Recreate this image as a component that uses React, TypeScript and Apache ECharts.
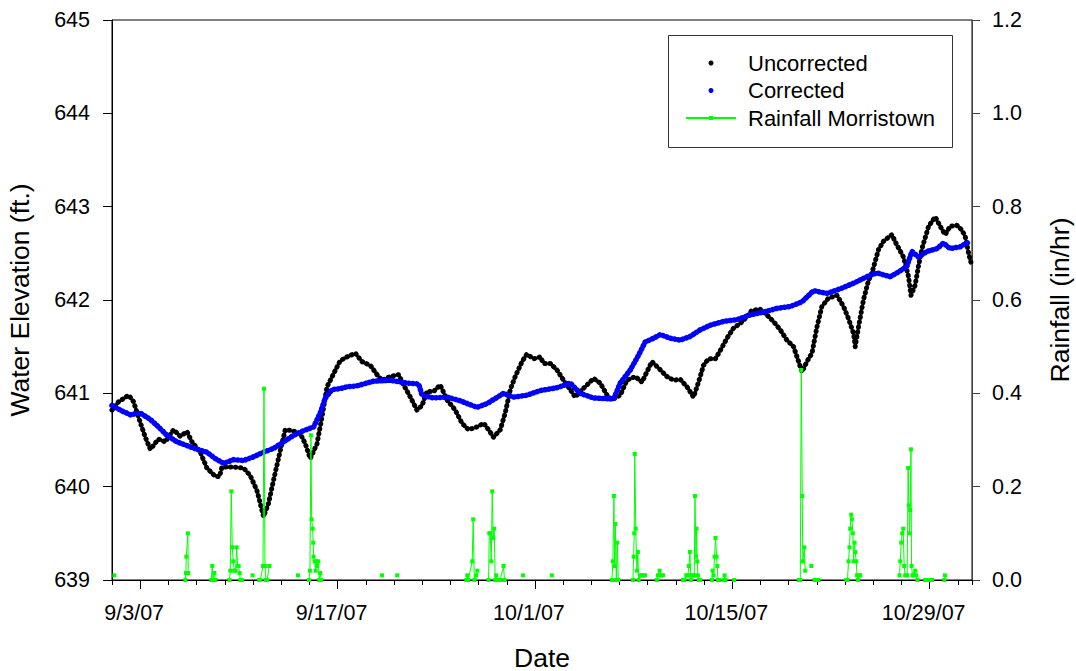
import React, { useEffect, useRef } from 'react';
import * as echarts from 'echarts';

// x values are days since 9/1/07 00:00
const xTickDays = [2, 16, 30, 44, 58];
const xTickLabels = ['9/3/07', '9/17/07', '10/1/07', '10/15/07', '10/29/07'];

const uncorrected: number[][] = [
  [0, 640.82], [0.47, 640.91], [1.18, 640.98], [1.53, 640.91], [1.89, 640.74], [2.36, 640.53], [2.72, 640.40],
  [3.3, 640.51], [3.78, 640.48], [4.37, 640.61], [4.84, 640.54], [5.32, 640.59], [5.67, 640.48], [6.26, 640.37],
  [6.73, 640.20], [7.33, 640.11], [7.63, 640.11], [7.8, 640.21], [8.63, 640.21], [9.33, 640.20], [9.8, 640.12],
  [10.28, 639.96], [10.75, 639.68], [11.1, 639.82], [11.46, 640.07], [11.94, 640.39], [12.29, 640.61], [12.77, 640.60],
  [13.35, 640.57], [13.71, 640.46], [14.06, 640.30], [14.54, 640.46], [14.9, 640.75], [15.25, 641.07], [15.72, 641.21],
  [16.19, 641.35], [16.66, 641.39], [17.26, 641.43], [17.73, 641.34], [18.32, 641.30], [18.8, 641.20], [19.15, 641.14],
  [19.74, 641.18], [20.33, 641.20], [20.69, 641.09], [21.16, 640.96], [21.63, 640.82], [21.99, 640.87], [22.34, 641.02],
  [22.81, 641.02], [23.28, 641.09], [23.76, 640.93], [24.35, 640.82], [24.82, 640.68], [25.29, 640.61], [25.89, 640.64],
  [26.36, 640.68], [26.71, 640.61], [27.06, 640.53], [27.54, 640.61], [27.89, 640.79], [28.25, 641.04], [28.6, 641.18],
  [29.08, 641.34], [29.43, 641.42], [29.9, 641.37], [30.38, 641.39], [30.61, 641.32], [31.09, 641.32], [31.56, 641.25],
  [32.03, 641.14], [32.5, 641.04], [32.86, 640.96], [33.21, 641.02], [33.69, 641.09], [34.16, 641.16], [34.63, 641.11],
  [35.11, 640.98], [35.46, 640.93], [36.05, 640.98], [36.52, 641.14], [37.11, 641.18], [37.59, 641.12], [37.94, 641.23],
  [38.3, 641.34], [38.77, 641.27], [39.36, 641.18], [39.83, 641.14], [40.3, 641.15], [40.78, 641.07], [41.25, 640.96],
  [41.6, 641.12], [41.96, 641.30], [42.31, 641.37], [42.8, 641.37], [43.15, 641.46], [43.62, 641.59], [44.09, 641.70],
  [44.57, 641.75], [45.04, 641.82], [45.39, 641.89], [45.98, 641.90], [46.45, 641.84], [46.92, 641.77], [47.4, 641.68],
  [47.87, 641.57], [48.34, 641.50], [48.7, 641.34], [48.94, 641.23], [49.29, 641.34], [49.65, 641.43], [50.0, 641.71],
  [50.35, 641.93], [50.82, 642.02], [51.42, 642.05], [51.89, 641.93], [52.24, 641.80], [52.6, 641.64], [52.72, 641.50],
  [52.95, 641.71], [53.3, 642.0], [53.66, 642.21], [53.9, 642.29], [54.37, 642.54], [54.72, 642.63], [55.32, 642.70],
  [55.67, 642.59], [56.14, 642.46], [56.5, 642.25], [56.67, 642.05], [56.97, 642.16], [57.2, 642.36], [57.45, 642.55],
  [57.92, 642.79], [58.39, 642.89], [58.74, 642.79], [59.1, 642.70], [59.45, 642.79], [59.93, 642.80], [60.28, 642.75],
  [60.52, 642.68], [60.76, 642.50], [61.0, 642.36],
];

const corrected: number[][] = [
  [0, 640.87], [0.59, 640.82], [1.3, 640.77], [2.0, 640.79], [2.72, 640.72], [3.3, 640.64], [3.9, 640.55],
  [4.61, 640.48], [5.32, 640.44], [6.03, 640.40], [6.73, 640.37], [7.33, 640.30], [7.92, 640.25], [8.63, 640.29],
  [9.33, 640.28], [10.04, 640.32], [10.75, 640.37], [11.46, 640.41], [12.17, 640.48], [12.88, 640.55], [13.59, 640.60],
  [14.3, 640.64], [14.77, 640.79], [15.13, 640.95], [15.6, 641.04], [16.19, 641.05], [16.66, 641.07], [17.37, 641.08],
  [18.55, 641.13], [19.74, 641.14], [20.92, 641.11], [21.75, 641.10], [21.99, 640.98], [22.81, 640.95], [23.76, 640.96],
  [24.7, 640.92], [25.89, 640.85], [26.6, 640.89], [27.77, 641.0], [28.48, 640.96], [29.43, 640.98], [30.38, 641.03],
  [31.56, 641.06], [32.5, 641.11], [33.21, 641.0], [34.16, 640.95], [35.58, 640.94], [36.05, 641.11], [36.76, 641.25],
  [37.35, 641.41], [37.82, 641.55], [38.41, 641.59], [38.89, 641.63], [39.6, 641.59], [40.3, 641.57], [41.01, 641.61],
  [41.72, 641.68], [42.43, 641.73], [43.37, 641.77], [44.33, 641.79], [45.27, 641.84], [46.21, 641.87], [47.16, 641.91],
  [48.1, 641.93], [48.94, 641.98], [49.76, 642.10], [50.71, 642.07], [51.65, 642.12], [52.6, 642.18], [53.55, 642.25],
  [54.25, 642.29], [55.19, 642.25], [55.78, 642.30], [56.38, 642.36], [56.74, 642.52], [57.2, 642.46], [57.8, 642.52],
  [58.51, 642.55], [58.98, 642.61], [59.45, 642.55], [60.16, 642.57], [60.87, 642.63],
];

const rainEvents: number[][][] = [
  [[0.17, 0.01]],
  [[5.2, 0], [5.24, 0.015], [5.27, 0.05], [5.38, 0.10], [5.41, 0.015]],
  [[7.04, 0], [7.11, 0.03], [7.16, 0], [7.26, 0.015], [7.33, 0]],
  [[8.34, 0], [8.39, 0.02], [8.46, 0.19], [8.53, 0.07], [8.6, 0.04], [8.67, 0.02], [8.77, 0.02], [8.84, 0.07],
    [8.91, 0.03], [8.98, 0.03], [9.05, 0.015], [9.1, 0], [9.22, 0]],
  [[9.97, 0.01]],
  [[10.45, 0], [10.52, 0], [10.71, 0.03], [10.78, 0.41], [10.85, 0.03], [10.92, 0], [11.0, 0], [11.16, 0.03]],
  [[13.19, 0.01]],
  [[13.97, 0], [14.04, 0.02], [14.11, 0.31], [14.16, 0.13], [14.23, 0.11], [14.27, 0.08], [14.3, 0.05], [14.37, 0.04],
    [14.44, 0.02], [14.49, 0.04], [14.56, 0.03], [14.63, 0.04], [14.7, 0], [14.77, 0.015], [14.84, 0]],
  [[19.15, 0.01]],
  [[20.23, 0.01]],
  [[25.13, 0], [25.2, 0.01], [25.27, 0], [25.55, 0.04], [25.62, 0.13], [25.7, 0], [25.84, 0.01], [25.91, 0.02]],
  [[26.71, 0], [26.76, 0.10], [26.83, 0.10], [26.9, 0.04], [26.97, 0.19], [27.04, 0.09], [27.11, 0.11], [27.18, 0],
    [27.25, 0.01], [27.32, 0], [27.42, 0], [27.54, 0], [27.77, 0.03], [27.84, 0]],
  [[29.15, 0.01]],
  [[31.2, 0.01]],
  [[35.46, 0], [35.53, 0.04], [35.6, 0.18], [35.65, 0.03], [35.7, 0.12], [35.77, 0], [35.84, 0.08], [35.91, 0]],
  [[36.95, 0], [37.0, 0.05], [37.04, 0.10], [37.08, 0.27], [37.15, 0.11], [37.23, 0.02], [37.3, 0.06], [37.35, 0],
    [37.47, 0.01], [37.59, 0.01], [37.7, 0.01], [37.82, 0.01]],
  [[38.65, 0], [38.72, 0.01], [38.84, 0.02], [38.94, 0.01], [39.08, 0.01]],
  [[40.5, 0], [40.61, 0], [40.73, 0.01], [40.85, 0.01], [40.92, 0.03], [40.99, 0.06], [41.06, 0], [41.13, 0.01],
    [41.2, 0.01], [41.3, 0.01], [41.35, 0.18], [41.42, 0.05], [41.46, 0.11], [41.51, 0.04], [41.56, 0.01], [41.63, 0],
    [41.72, 0]],
  [[42.55, 0], [42.6, 0.02], [42.67, 0.01], [42.74, 0.05], [42.81, 0.09], [42.88, 0.05], [42.93, 0.03], [42.98, 0],
    [43.05, 0]],
  [[43.38, 0], [43.45, 0.01], [43.52, 0]],
  [[44.13, 0]],
  [[48.74, 0], [48.82, 0], [48.89, 0.45], [48.96, 0.18], [49.0, 0.04], [49.1, 0.07], [49.17, 0.02]],
  [[49.6, 0.03]],
  [[49.83, 0], [49.93, 0], [50.11, 0]],
  [[52.08, 0], [52.17, 0], [52.24, 0.04], [52.31, 0.07], [52.36, 0.11], [52.43, 0.14], [52.48, 0.13], [52.55, 0.10],
    [52.6, 0.04], [52.67, 0.08], [52.72, 0.06], [52.79, 0.04], [52.84, 0.01], [52.91, 0], [52.98, 0.01], [53.07, 0.01]],
  [[55.86, 0.01], [55.91, 0.04], [55.98, 0.08], [56.05, 0.10], [56.12, 0.11], [56.19, 0.03], [56.26, 0.01],
    [56.33, 0.01], [56.4, 0.01], [56.47, 0.24], [56.52, 0.16], [56.57, 0.10], [56.62, 0.15], [56.67, 0.28],
    [56.71, 0.03], [56.78, 0.01], [56.85, 0.01], [56.97, 0.02], [57.04, 0.01], [57.13, 0]],
  [[57.68, 0], [57.8, 0], [58.09, 0], [58.16, 0]],
  [[59.04, 0], [59.08, 0.01]],
];

export default function App() {
  const ref = useRef<HTMLDivElement>(null);

  useEffect(() => {
    if (!ref.current) return;
    const chart = echarts.init(ref.current, null, { renderer: 'svg' });
    const font = 'Liberation Sans';
    const titleSize = 26.5;

    const rainData: any[] = [];
    rainEvents.forEach((ev, i) => {
      if (i > 0) rainData.push([ev[0][0], '-']);
      ev.forEach((p) => rainData.push(p));
    });

    const option: any = {
      animation: false,
      backgroundColor: '#ffffff',
      grid: {
        left: 112, right: 104, top: 20, bottom: 91,
        containLabel: false,
        outerBoundsMode: 'none',
        show: true, borderColor: '#000', borderWidth: 1, backgroundColor: 'transparent',
      },
      legend: {
        orient: 'vertical',
        left: 685,
        top: 52,
        itemWidth: 50,
        itemHeight: 5,
        itemGap: 5.5,
        selectedMode: false,
        padding: 0,
        textStyle: { fontFamily: font, fontSize: 22, color: '#000', lineHeight: 22, padding: [0, 0, 0, 7] },
        data: [
          { name: 'Uncorrected', icon: 'circle' },
          { name: 'Corrected', icon: 'circle' },
          { name: 'Rainfall Morristown' },
        ],
      },
      graphic: [
        {
          type: 'rect',
          shape: { x: 668.5, y: 35.5, width: 284, height: 112 },
          style: { fill: 'none', stroke: '#333', lineWidth: 1 },
          z: 10,
        },
      ],
      xAxis: [
        {
          type: 'value',
          min: 0,
          max: 61,
          position: 'bottom',
          name: 'Date',
          nameLocation: 'middle',
          nameGap: 64,
          nameTextStyle: { fontFamily: font, fontSize: titleSize, color: '#000' },
          axisLine: { show: true, onZero: false, lineStyle: { color: '#000', width: 1 } },
          axisTick: { show: true, customValues: xTickDays, length: 9, lineStyle: { color: '#000', width: 1 } },
          axisLabel: {
            customValues: xTickDays,
            formatter: (v: number) => {
              const i = xTickDays.indexOf(Math.round(v));
              return i >= 0 ? xTickLabels[i] : '';
            },
            fontFamily: font, fontSize: 21.5, color: '#000', margin: 22, padding: [0, 12, 0, 0],
          },
          splitLine: { show: false },
        },
        {
          type: 'value',
          min: 0,
          max: 61,
          interval: 2,
          position: 'bottom',
          axisLine: { show: false, onZero: false },
          axisTick: { show: true, length: 5, lineStyle: { color: '#000', width: 1 } },
          axisLabel: { show: false },
          splitLine: { show: false },
        },
      ],
      yAxis: [
        {
          type: 'value',
          min: 639,
          max: 645,
          interval: 1,
          position: 'left',
          name: 'Water Elevation (ft.)',
          nameLocation: 'middle',
          nameGap: 79,
          nameTextStyle: { fontFamily: font, fontSize: titleSize, color: '#000' },
          axisLine: { show: true, onZero: false, lineStyle: { color: '#000', width: 1 } },
          axisTick: { show: true, length: 9, lineStyle: { color: '#000', width: 1 } },
          axisLabel: { fontFamily: font, fontSize: 21.5, color: '#000', margin: 22 },
          splitLine: { show: false },
        },
        {
          type: 'value',
          min: 0,
          max: 1.2,
          interval: 0.2,
          position: 'right',
          name: 'Rainfall (in/hr)',
          nameLocation: 'middle',
          nameGap: 74,
          nameTextStyle: { fontFamily: font, fontSize: titleSize, color: '#000' },
          axisLine: { show: true, onZero: false, lineStyle: { color: '#444', width: 1 } },
          axisTick: { show: true, length: 8, lineStyle: { color: '#444', width: 1 } },
          axisLabel: {
            fontFamily: font, fontSize: 21.5, color: '#000', margin: 20,
            formatter: (v: number) => v.toFixed(1),
          },
          splitLine: { show: false },
        },
      ],
      series: [
        {
          name: 'Uncorrected',
          type: 'line',
          xAxisIndex: 0,
          yAxisIndex: 0,
          data: uncorrected,
          showSymbol: false,
          clip: true,
          itemStyle: { color: '#000000' },
          lineStyle: { color: '#000000', width: 5, type: [0.5, 4.5], cap: 'round', join: 'round' },
          z: 2,
        },
        {
          name: 'Corrected',
          type: 'line',
          xAxisIndex: 0,
          yAxisIndex: 0,
          data: corrected,
          showSymbol: false,
          clip: true,
          itemStyle: { color: '#0000ff' },
          lineStyle: { color: '#0000ff', width: 5.5, type: [0.5, 3.5], cap: 'round', join: 'round' },
          z: 3,
        },
        {
          name: 'Rainfall Morristown',
          type: 'line',
          xAxisIndex: 0,
          yAxisIndex: 1,
          data: rainData,
          symbol: 'rect',
          symbolSize: 4,
          showSymbol: true,
          showAllSymbol: true,
          connectNulls: false,
          clip: true,
          itemStyle: { color: '#00ff00' },
          lineStyle: { color: '#00ff00', width: 1 },
          z: 4,
        },
      ],
    };

    chart.setOption(option);
    return () => chart.dispose();
  }, []);

  return <div ref={ref} style={{ position: 'fixed', left: 0, top: 0, width: 1076, height: 671 }} />;
}
